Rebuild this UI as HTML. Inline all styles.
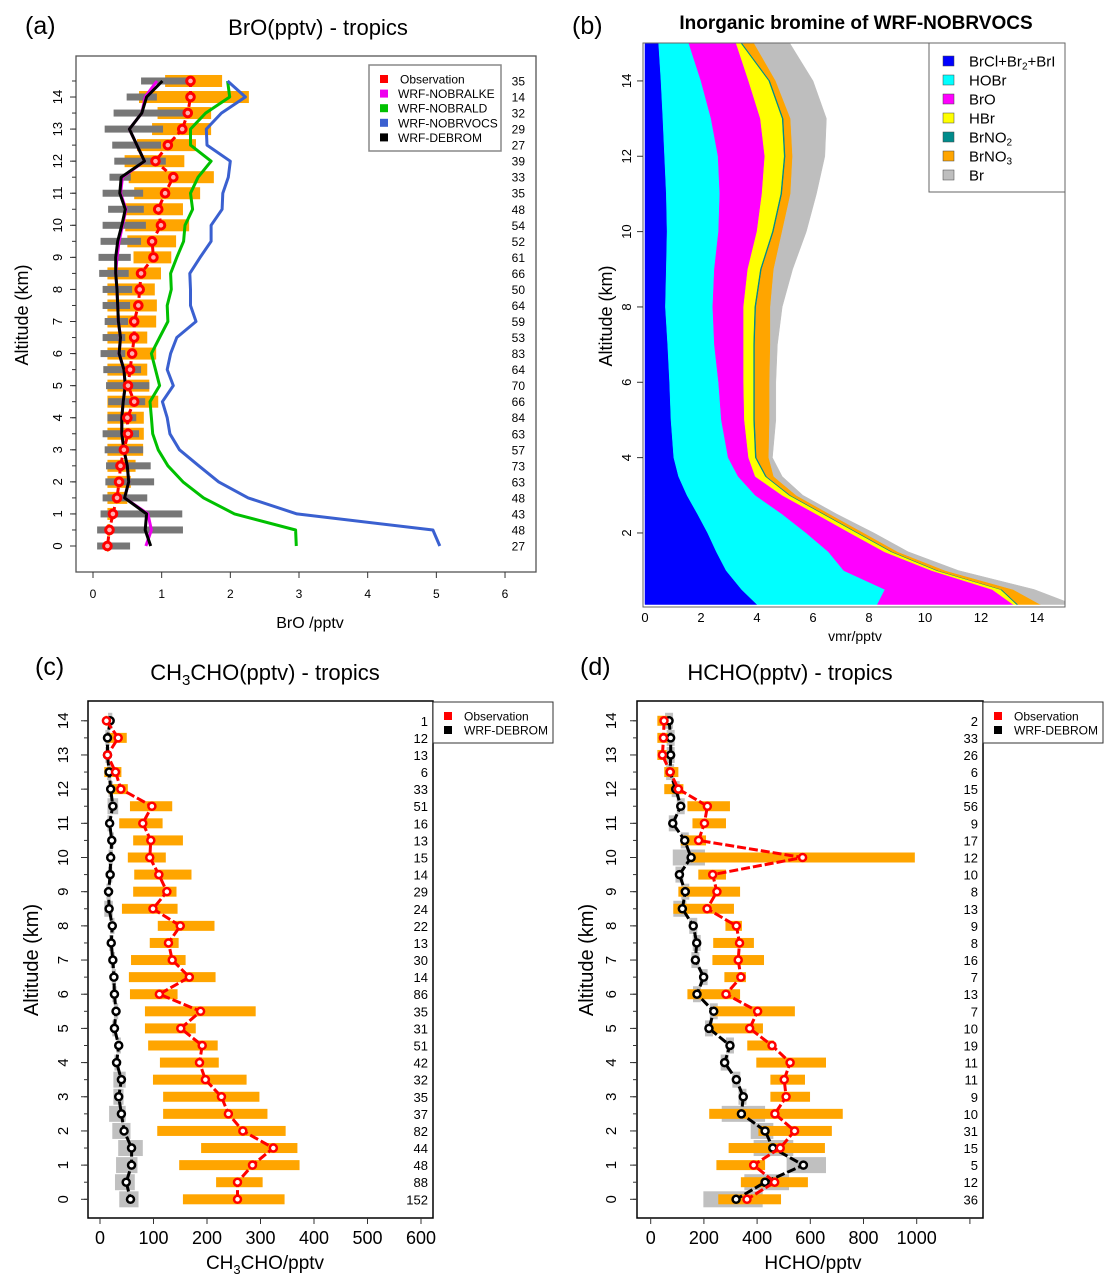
<!DOCTYPE html>
<html><head><meta charset="utf-8">
<style>
html,body{margin:0;padding:0;background:#fff;}
svg{display:block;font-family:"Liberation Sans",Arial,sans-serif;}
</style></head>
<body>
<svg id="fig" width="1116" height="1285" viewBox="0 0 1116 1285" xmlns="http://www.w3.org/2000/svg">
<defs>
<clipPath id="clipB"><rect x="643" y="43" width="422" height="564"/></clipPath>
</defs>
<!-- panel labels and titles -->
<text x="25" y="34" font-size="25">(a)</text>
<text x="318" y="35" font-size="22" text-anchor="middle">BrO(pptv) -  tropics</text>
<text x="572" y="34" font-size="25">(b)</text>
<text x="856" y="29" font-size="19" font-weight="bold" text-anchor="middle">Inorganic bromine of WRF-NOBRVOCS</text>
<text x="35" y="675" font-size="25">(c)</text>
<text x="265" y="680" font-size="22" text-anchor="middle">CH<tspan font-size="15" dy="5">3</tspan><tspan dy="-5">CHO(pptv) -  tropics</tspan></text>
<text x="580" y="675" font-size="25">(d)</text>
<text x="790" y="680" font-size="22" text-anchor="middle">HCHO(pptv) -  tropics</text>

<!-- axis titles -->
<text x="28" y="315" font-size="18" text-anchor="middle" transform="rotate(-90 28 315)">Altitude (km)</text>
<text x="310" y="628" font-size="16" text-anchor="middle">BrO /pptv</text>
<text x="612" y="316" font-size="18" text-anchor="middle" transform="rotate(-90 612 316)">Altitude (km)</text>
<text x="855" y="641" font-size="14" text-anchor="middle">vmr/pptv</text>
<text x="38" y="960" font-size="20" text-anchor="middle" transform="rotate(-90 38 960)">Altitude (km)</text>
<text x="265" y="1269" font-size="19" text-anchor="middle">CH<tspan font-size="13" dy="5">3</tspan><tspan dy="-5">CHO/pptv</tspan></text>
<text x="593" y="960" font-size="20" text-anchor="middle" transform="rotate(-90 593 960)">Altitude (km)</text>
<text x="813" y="1269" font-size="19" text-anchor="middle">HCHO/pptv</text>

<g id="gA"></g>
<g id="gB"></g>
<g id="gC"></g>
<g id="gD"></g>
</svg>
<script>
// ---------- Panel (a) data: BrO, altitudes 14.5 down to 0 ----------
const altA = [14.5,14,13.5,13,12.5,12,11.5,11,10.5,10,9.5,9,8.5,8,7.5,7,6.5,6,5.5,5,4.5,4,3.5,3,2.5,2,1.5,1,0.5,0];
const obsA = [1.42,1.42,1.38,1.30,1.09,0.91,1.17,1.05,0.95,0.99,0.86,0.88,0.70,0.68,0.66,0.60,0.60,0.57,0.54,0.51,0.60,0.50,0.51,0.45,0.40,0.38,0.35,0.29,0.24,0.21];
const obsLoA = [1.05,0.67,0.94,0.86,0.64,0.46,0.52,0.60,0.47,0.47,0.50,0.59,0.21,0.21,0.21,0.21,0.21,0.21,0.21,0.21,0.21,0.21,0.21,0.21,0.21,0.21,0.21,0.21,0.21,0.21];
const obsHiA = [1.88,2.27,1.72,1.72,1.50,1.33,1.76,1.56,1.31,1.40,1.21,1.14,0.99,0.90,0.93,0.92,0.79,0.92,0.79,0.82,0.95,0.74,0.74,0.73,0.62,0.55,0.50,0.30,0.25,0.22];
const modLoA = [0.70,0.49,0.30,0.17,0.28,0.31,0.24,0.14,0.22,0.14,0.11,0.08,0.09,0.14,0.14,0.17,0.14,0.11,0.15,0.19,0.22,0.21,0.14,0.17,0.19,0.18,0.14,0.11,0.06,0.06];
const modHiA = [1.37,0.93,1.34,1.02,0.99,1.06,0.55,0.73,0.74,0.77,0.70,0.55,0.52,0.57,0.54,0.51,0.47,0.47,0.70,0.82,0.76,0.63,0.67,0.73,0.84,0.89,0.79,1.30,1.31,0.54];
const debromA = [1.01,0.78,0.71,0.53,0.64,0.75,0.41,0.39,0.47,0.42,0.36,0.33,0.33,0.35,0.36,0.37,0.40,0.38,0.45,0.47,0.44,0.42,0.42,0.45,0.50,0.52,0.46,0.78,0.76,0.84];
const noalkeA = [0.93,0.76,0.71,0.53,0.64,0.75,0.43,0.40,0.48,0.43,0.38,0.35,0.33,0.35,0.36,0.37,0.40,0.38,0.45,0.47,0.44,0.42,0.42,0.45,0.50,0.52,0.46,0.80,0.85,0.77];
const noaldA = [1.96,1.99,1.64,1.42,1.42,1.72,1.53,1.42,1.45,1.34,1.32,1.22,1.13,1.14,1.08,1.09,0.97,0.85,0.91,0.97,0.83,0.85,0.87,0.95,1.09,1.31,1.61,2.06,2.95,2.96];
const novocsA = [1.96,2.22,1.87,1.65,1.66,2.00,1.97,1.89,1.88,1.72,1.72,1.56,1.41,1.42,1.42,1.50,1.22,1.13,1.08,1.17,1.01,1.08,1.12,1.26,1.54,1.83,2.26,2.97,4.95,5.05];
const countsA = [35,14,32,29,27,39,33,35,48,54,52,61,66,50,64,59,53,83,64,70,66,84,63,57,73,63,48,43,48,27];
const xTicksA = [0,1,2,3,4,5,6];
const yTicksA = [0,1,2,3,4,5,6,7,8,9,10,11,12,13,14];

// ---------- Panel (b) data: stacked species ----------
const altB = [0.1,0.5,1,1.5,2,2.5,3,3.5,4,5,6,7,8,9,10,11,12,13,14,15.1];
const brclB = [4.0,3.45,2.9,2.55,2.24,1.88,1.5,1.2,1.03,0.93,0.88,0.81,0.73,0.76,0.79,0.76,0.70,0.64,0.57,0.48];
const hobrB = [4.3,5.12,4.2,4.0,3.52,3.02,2.44,2.13,1.94,1.80,1.75,1.67,1.69,1.72,1.84,1.91,1.91,1.72,1.43,1.04];
const broB = [4.85,3.83,3.14,2.0,1.57,1.22,0.96,0.61,0.73,0.82,0.89,1.04,1.10,1.19,1.37,1.51,1.67,1.76,1.70,1.69];
const hbrB = [0.12,0.3,0.18,0.24,0.25,0.24,0.25,0.36,0.24,0.33,0.36,0.36,0.40,0.45,0.55,0.67,0.69,0.78,0.72,0.12];
const brno2B = [0.05,0.05,0.05,0.05,0.05,0.05,0.05,0.05,0.05,0.05,0.05,0.05,0.05,0.05,0.05,0.05,0.05,0.05,0.05,0.05];
const brno3B = [0.80,0.40,0.26,0.19,0.19,0.19,0.20,0.25,0.43,0.52,0.52,0.55,0.51,0.43,0.30,0.30,0.25,0.25,0.20,0.44];
const brB = [1.18,0.75,0.47,0.37,0.36,0.25,0.24,0.30,0.13,0.22,0.22,0.25,0.42,0.67,0.86,0.92,1.15,1.28,1.33,1.27];
const xTicksB = [0,2,4,6,8,10,12,14];
const yTicksB = [2,4,6,8,10,12,14];

// ---------- Panel (c) data: CH3CHO, 14 down to 0 ----------
const altCD = [14,13.5,13,12.5,12,11.5,11,10.5,10,9.5,9,8.5,8,7.5,7,6.5,6,5.5,5,4.5,4,3.5,3,2.5,2,1.5,1,0.5,0];
const obsC = [12,34,14,29,39,97,80,95,93,110,125,99,150,128,135,167,111,188,151,191,186,197,227,240,267,324,285,257,257];
const obsLoC = [10,14,12,8,16,56,36,62,52,64,62,41,108,93,58,54,56,84,84,90,112,99,118,118,107,189,148,217,155];
const obsHiC = [14,50,16,40,52,135,117,155,123,171,143,145,214,147,160,216,145,291,179,220,222,274,298,313,347,369,373,304,345];
const modC = [19,14,14,17,20,24,18,22,20,19,16,17,23,21,24,26,27,30,27,35,31,40,35,40,45,59,59,49,57];
const modLoC = [15,10,10,13,16,14,14,18,16,15,12,8,19,17,20,22,23,26,23,31,27,25,25,17,23,34,30,28,36];
const modHiC = [23,18,18,21,24,34,22,26,24,23,20,24,27,25,28,30,31,34,31,39,35,48,44,48,57,80,70,65,72];
const countsC = [1,12,13,6,33,51,16,13,15,14,29,24,22,13,30,14,86,35,31,51,42,32,35,37,82,44,48,88,152];
const xTicksC = [0,100,200,300,400,500,600];

// ---------- Panel (d) data: HCHO ----------
const obsD = [50,48,44,73,104,213,202,180,571,233,249,212,322,334,329,339,283,402,372,456,524,502,509,467,541,487,387,466,362];
const obsLoD = [25,25,25,51,51,138,157,113,150,179,104,85,281,235,232,277,138,235,229,363,397,450,450,220,405,293,247,339,254];
const obsHiD = [64,64,60,104,123,298,283,208,993,283,336,313,343,388,426,358,336,542,422,463,659,580,599,722,681,655,430,591,490];
const modD = [69,75,75,73,94,113,83,128,152,108,130,119,160,173,168,199,174,237,219,298,278,322,348,341,430,459,574,430,321];
const modLoD = [54,60,60,58,79,98,68,113,83,93,115,85,145,158,153,184,159,222,204,283,263,307,330,267,376,387,511,352,198];
const modHiD = [84,90,90,88,109,128,98,143,204,123,145,134,175,188,183,214,189,252,234,313,293,337,360,430,461,536,659,520,421];
const countsD = [2,33,26,6,15,56,9,17,12,10,8,13,9,8,16,7,13,7,10,19,11,11,9,10,31,15,5,12,36];
const xTicksD = [0,200,400,600,800,1000,1200];
const xTickLabelsD = ["0","200","400","600","800","1000",""];
const yTicksCD = [0,1,2,3,4,5,6,7,8,9,10,11,12,13,14];

const NS = "http://www.w3.org/2000/svg";
function mk(tag, parent, attrs){
  const e = document.createElementNS(NS, tag);
  for (const k in attrs) e.setAttribute(k, attrs[k]);
  parent.appendChild(e);
  return e;
}

// ===== Panel A =====
(function(){
  const g = document.getElementById('gA');
  const xA = v => 93 + 68.67*v;
  const yA = a => 546 - 32.07*a;
  let e;
  // orange obs bars
  altA.forEach((a,i)=>{
    e = mk('rect', g, {x:xA(obsLoA[i]), y:yA(a)-6, width:Math.max(1,xA(obsHiA[i])-xA(obsLoA[i])), height:12, fill:'#ffa500'});
    
    
  });
  altA.forEach((a,i)=>{
    e = mk('rect', g, {x:xA(modLoA[i]), y:yA(a)-3.5, width:xA(modHiA[i])-xA(modLoA[i]), height:7, fill:'#777'});
    
    
  });
  function line(vals, color, name, dash){
    const pts = altA.map((a,i)=>xA(vals[i]).toFixed(1)+','+yA(a).toFixed(1)).join(' ');
    const l = mk('polyline', g, {points:pts, fill:'none', stroke:color, 'stroke-width':3, 'stroke-linejoin':'round'});
    if (dash) l.setAttribute('stroke-dasharray', dash);
    
    
  }
  line(noaldA, '#00c000', 'wrf-nobrald-line');
  line(novocsA, '#3a60d0', 'wrf-nobrvocs-line');
  line(noalkeA, '#ee00ee', 'wrf-nobralke-line');
  line(debromA, '#000', 'wrf-debrom-line');
  line(obsA, '#ff0000', 'observation-line', '6,4');
  altA.forEach((a,i)=>{
    e = mk('circle', g, {cx:xA(obsA[i]), cy:yA(a), r:3.8, fill:'#ffb0b0', stroke:'#ff0000', 'stroke-width':3});
    
    
  });
  altA.forEach((a,i)=>{
    e = mk('text', g, {x:525, y:yA(a)+4.5, 'font-size':12, 'text-anchor':'end'});
    e.textContent = countsA[i];
    
    
  });
  e = mk('rect', g, {x:76, y:56, width:460, height:516, fill:'none', stroke:'#555', 'stroke-width':1.3});
  
  
  xTicksA.forEach(v=>{
    mk('line', g, {x1:xA(v), x2:xA(v), y1:572, y2:578, stroke:'#333'});
    e = mk('text', g, {x:xA(v), y:598, 'font-size':12, 'text-anchor':'middle'});
    e.textContent = v;
    
    
  });
  altA.forEach(a=>{ mk('line', g, {x1:72, x2:76, y1:yA(a), y2:yA(a), stroke:'#333'}); });
  yTicksA.forEach(v=>{
    mk('line', g, {x1:70, x2:76, y1:yA(v), y2:yA(v), stroke:'#333'});
    e = mk('text', g, {x:62, y:yA(v), 'font-size':13, 'text-anchor':'middle', transform:'rotate(-90 62 '+yA(v)+')'});
    e.textContent = v;
    
    
  });
  // legend
  const lg = mk('g', g, {});
  
  
  mk('rect', lg, {x:369, y:65, width:132, height:86, fill:'#fff', stroke:'#888', 'stroke-width':1.5});
  const names = ['Observation','WRF-NOBRALKE','WRF-NOBRALD','WRF-NOBRVOCS','WRF-DEBROM'];
  const cols = ['#ff0000','#ee00ee','#00c000','#3a60d0','#000'];
  names.forEach((n,i)=>{
    const y = 79 + i*14.6;
    mk('rect', lg, {x:380, y:y-4, width:8, height:8, fill:cols[i]});
    e = mk('text', lg, {x:i==0?400:398, y:y+4.5, 'font-size':12});
    e.textContent = n;
    
    
  });
})();

// ===== Panel B =====
(function(){
  const g = document.getElementById('gB');
  const xB = v => 645 + 28*v;
  const yB = a => 608.3 - 37.67*a;
  const series = [brclB, hobrB, broB, hbrB, brno2B, brno3B, brB];
  const cols = ['#0000ff','#00ffff','#ff00ff','#ffff00','#008b8b','#ffa500','#bebebe'];
  const names = ['brcl-br2-bri-area','hobr-area','bro-area','hbr-area','brno2-area','brno3-area','br-area'];
  const cg = mk('g', g, {'clip-path':'url(#clipB)'});
  let lower = altB.map(()=>0);
  series.forEach((s,k)=>{
    const upper = lower.map((v,i)=>v+s[i]);
    const pts = [];
    altB.forEach((a,i)=>pts.push(xB(upper[i]).toFixed(1)+','+yB(a).toFixed(1)));
    for (let i=altB.length-1;i>=0;i--) pts.push(xB(lower[i]).toFixed(1)+','+yB(altB[i]).toFixed(1));
    const p = mk('polygon', cg, {points:pts.join(' '), fill:cols[k], stroke:cols[k], 'stroke-width':0.5});
    
    
    lower = upper;
  });
  let e = mk('rect', g, {x:643, y:43, width:422, height:564, fill:'none', stroke:'#666', 'stroke-width':1});
  
  
  xTicksB.forEach(v=>{
    e = mk('text', g, {x:xB(v), y:622, 'font-size':13, 'text-anchor':'middle'});
    e.textContent = v;
    
    
  });
  yTicksB.forEach(v=>{
    mk('line', g, {x1:637, x2:643, y1:yB(v), y2:yB(v), stroke:'#333'});
    e = mk('text', g, {x:631, y:yB(v), 'font-size':13, 'text-anchor':'middle', transform:'rotate(-90 631 '+yB(v)+')'});
    e.textContent = v;
    
    
  });
  const lg = mk('g', g, {});
  
  
  mk('rect', lg, {x:929, y:43, width:136, height:149, fill:'#fff', stroke:'#666', 'stroke-width':1});
  const labels = [['BrCl+Br','2','+BrI'],['HOBr'],['BrO'],['HBr'],['BrNO','2'],['BrNO','3'],['Br']];
  labels.forEach((lab,i)=>{
    const y = 61 + i*19;
    mk('rect', lg, {x:943, y:y-5, width:11, height:10, fill:cols[i], stroke:'#444', 'stroke-width':0.5});
    e = mk('text', lg, {x:969, y:y+5.5, 'font-size':15});
    
    
    const t1 = mk('tspan', e, {}); t1.textContent = lab[0];
    if (lab[1]){ const t2 = mk('tspan', e, {'font-size':10, dy:3}); t2.textContent = lab[1]; }
    if (lab[2]){ const t3 = mk('tspan', e, {dy:-3}); t3.textContent = lab[2]; }
  });
})();

// ===== Panels C & D =====
function drawCD(gid, x0, pxPer, box, obs, lo, hi, mod, mlo, mhi, counts, xticks, xlabels, ylabX, legX, prefix){
  const g = document.getElementById(gid);
  const xf = v => x0 + pxPer*v;
  const yf = a => 1199.3 - 34.18*a;
  let e;
  altCD.forEach((a,i)=>{
    e = mk('rect', g, {x:xf(mlo[i]), y:yf(a)-8, width:xf(mhi[i])-xf(mlo[i]), height:16, fill:'#c0c0c0'});
    
    
  });
  altCD.forEach((a,i)=>{
    e = mk('rect', g, {x:xf(lo[i]), y:yf(a)-5, width:Math.max(1,xf(hi[i])-xf(lo[i])), height:10, fill:'#ffa500'});
    
    
  });
  function line(vals, color, name){
    const pts = altCD.map((a,i)=>xf(vals[i]).toFixed(1)+','+yf(a).toFixed(1)).join(' ');
    const l = mk('polyline', g, {points:pts, fill:'none', stroke:color, 'stroke-width':3, 'stroke-dasharray':'9,3', 'stroke-linejoin':'round'});
    
    
  }
  line(mod, '#000', 'wrf-debrom-line');
  altCD.forEach((a,i)=>{
    e = mk('circle', g, {cx:xf(mod[i]), cy:yf(a), r:3.5, fill:'#fff', stroke:'#000', 'stroke-width':2.5});
    
    
  });
  line(obs, '#ff0000', 'observation-line');
  altCD.forEach((a,i)=>{
    e = mk('circle', g, {cx:xf(obs[i]), cy:yf(a), r:3.5, fill:'#fff', stroke:'#ff0000', 'stroke-width':2.5});
    
    
  });
  altCD.forEach((a,i)=>{
    e = mk('text', g, {x:box[1]-5, y:yf(a)+5, 'font-size':13, 'text-anchor':'end'});
    e.textContent = counts[i];
    
    
  });
  e = mk('rect', g, {x:box[0], y:701, width:box[1]-box[0], height:517, fill:'none', stroke:'#000', 'stroke-width':1.5});
  
  
  xticks.forEach((v,i)=>{
    mk('line', g, {x1:xf(v), x2:xf(v), y1:1218, y2:1224, stroke:'#333'});
    e = mk('text', g, {x:xf(v), y:1244, 'font-size':18, 'text-anchor':'middle'});
    e.textContent = xlabels[i];
    
    
  });
  altCD.forEach(a=>{ mk('line', g, {x1:box[0]-4, x2:box[0], y1:yf(a), y2:yf(a), stroke:'#333'}); });
  yTicksCD.forEach(v=>{
    mk('line', g, {x1:box[0]-7, x2:box[0], y1:yf(v), y2:yf(v), stroke:'#333'});
    e = mk('text', g, {x:ylabX, y:yf(v), 'font-size':15, 'text-anchor':'middle', transform:'rotate(-90 '+ylabX+' '+yf(v)+')'});
    e.textContent = v;
    
    
  });
  const lg = mk('g', g, {});
  
  
  mk('rect', lg, {x:legX, y:702, width:120, height:41, fill:'#fff', stroke:'#333', 'stroke-width':1});
  [['Observation','#ff0000'],['WRF-DEBROM','#000']].forEach((it,i)=>{
    const y = 716 + i*14;
    mk('rect', lg, {x:legX+11, y:y-4, width:8, height:8, fill:it[1]});
    e = mk('text', lg, {x:legX+31, y:y+4.5, 'font-size':12});
    e.textContent = it[0];
    
    
  });
}
drawCD('gC', 100, 0.535, [88,433], obsC, obsLoC, obsHiC, modC, modLoC, modHiC, countsC, xTicksC, xTicksC.map(String), 68, 433, 'panel-c');
drawCD('gD', 650.7, 0.266, [637,983], obsD, obsLoD, obsHiD, modD, modLoD, modHiD, countsD, xTicksD, xTickLabelsD, 616, 983, 'panel-d');
</script>
</body></html>
